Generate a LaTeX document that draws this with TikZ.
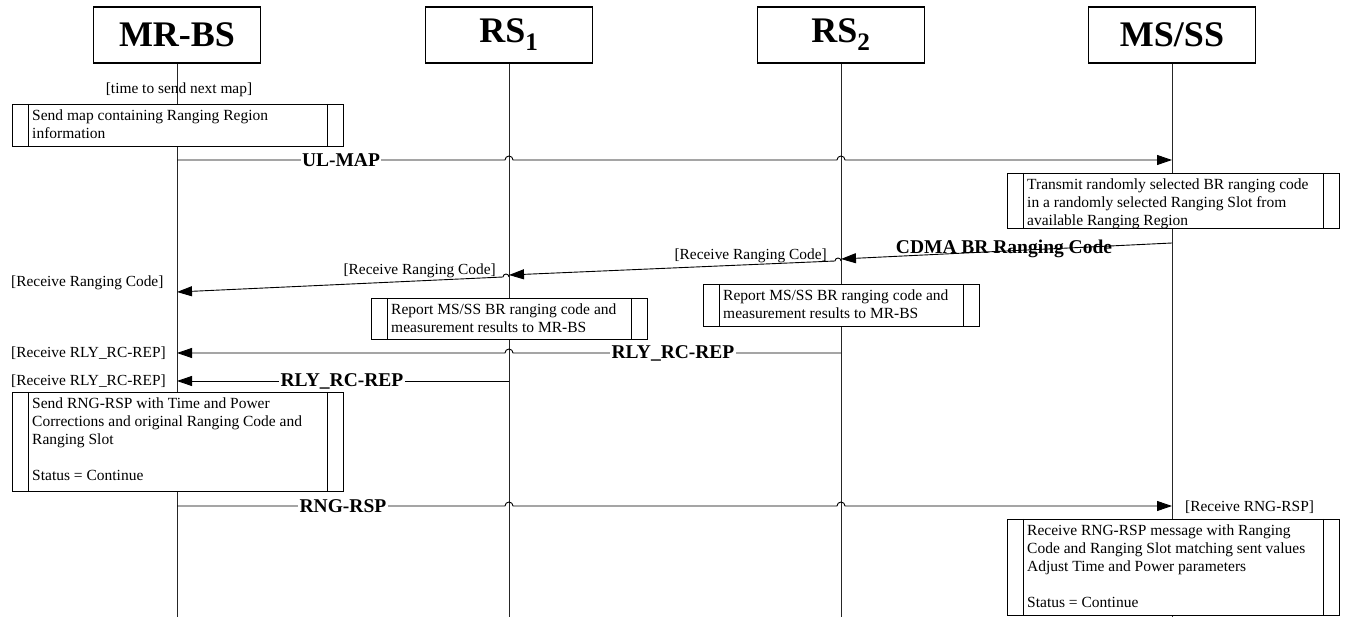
\documentclass[tikz,border=0pt]{standalone}
\usepackage{fontspec}
\setmainfont{Liberation Serif}
\usetikzlibrary{arrows.meta,calc}
\newcommand{\actbx}[6]{%
  \node[abox, minimum width=#4pt, minimum height=#5pt, anchor=north west] (#1) at (#2,#3) {};
  \draw[line width=0.9pt] ([xshift=16pt]#1.north west) -- ([xshift=16pt]#1.south west);
  \draw[line width=0.9pt] ([xshift=-16pt]#1.north east) -- ([xshift=-16pt]#1.south east);
  \node[atext, anchor=north west] (#1t) at ([xshift=20pt,yshift=-6pt]#1.north west) {#6};
}
\begin{document}
\begin{tikzpicture}[x=1pt,y=-1pt,
  head/.style={draw, line width=1.8pt, minimum width=167pt, minimum height=56pt, inner sep=0pt, font=\fontsize{36}{36}\selectfont\bfseries},
  life/.style={line width=0.8pt, black!85},
  abox/.style={draw, fill=white, line width=0.9pt, inner sep=0pt, outer sep=0pt},
  atext/.style={inner sep=0pt, align=left, font=\fontsize{15.5}{18}\selectfont},
  note/.style={inner sep=0pt, font=\fontsize{15.4}{18}\selectfont},
  msg/.style={line width=0.9pt, -{Triangle[length=15pt,width=10pt]}},
  mlabel/.style={fill=white, inner sep=1.5pt, font=\fontsize{19.5}{20}\selectfont\bfseries},
]
\useasboundingbox (0,0) rectangle (1345,617);

% headers
\node[head] (mrbs) at (177,35) {MR-BS};
\node[head] (rs1) at (509,35) {RS\textsubscript{1}};
\node[head] (rs2) at (841,35) {RS\textsubscript{2}};
\node[head] (msss) at (1172,35) {MS/SS};

% lifelines
\coordinate (mrbsE) at (177,617);
\coordinate (rs1E) at (509,617);
\coordinate (rs2E) at (841,617);
\coordinate (msssE) at (1172,617);
\draw[life] (mrbs.south) -- (mrbsE);
\draw[life] (rs1.south) -- (rs1E);
\draw[life] (rs2.south) -- (rs2E);
\draw[life] (msss.south) -- (msssE);

% time to send next map
\node[note] (tsnm) at (179,90) {[time to send next map]};

\actbx{b1}{12}{104}{331}{42}{Send map containing Ranging Region\\information}

% UL-MAP
\coordinate (ulS) at (177,160);
\coordinate (ulE) at (1172,160);
\draw[msg] (ulS) -- ($(ulS -| rs1)+(-4,0)$) arc[start angle=180,end angle=0,radius=4pt]
  -- ($(ulS -| rs2)+(-4,0)$) arc[start angle=180,end angle=0,radius=4pt] -- (ulE);
\node[mlabel] (ull) at (341,160) {UL-MAP};

\actbx{b2}{1007}{173}{332}{55}{Transmit randomly selected BR ranging code\\in a randomly selected Ranging Slot from\\available Ranging Region}

% CDMA BR Ranging Code
\coordinate (cdS) at (1172,243);
\coordinate (cdE) at (841,259);
\draw[msg] (cdS) -- (cdE);
\node[inner sep=0pt, font=\fontsize{19.5}{20}\selectfont\bfseries] (cdl) at (1004,249) {CDMA BR Ranging Code};

\coordinate (r2S) at (841,261);
\coordinate (r2E) at (509,275);
\draw[msg] (r2S) arc[start angle=0,end angle=180,radius=3pt] -- (r2E);
\node[note, anchor=east] (rc2) at (827,256) {[Receive Ranging Code]};

\coordinate (r1S) at (509,277);
\coordinate (r1E) at (177,292);
\draw[msg] (r1S) arc[start angle=0,end angle=180,radius=3pt] -- (r1E);
\node[note, anchor=east] (rc1) at (496,271) {[Receive Ranging Code]};
\node[note, anchor=west] (rc0) at (11,283) {[Receive Ranging Code]};

\actbx{b4}{703}{284}{276}{42}{Report MS/SS BR ranging code and\\measurement results to MR-BS}
\actbx{b3}{371}{298}{276}{41}{Report MS/SS BR ranging code and\\measurement results to MR-BS}

% RLY_RC-REP from RS2
\coordinate (rl2S) at (841,353);
\coordinate (rl2E) at (177,353);
\draw[msg] (rl2S) -- ($(rl2S -| rs1)+(4,0)$) arc[start angle=0,end angle=180,radius=4pt] -- (rl2E);
\node[mlabel] (rl2l) at (673,353) {RLY\_RC-REP};
\node[note, anchor=west] (rr2) at (11,353) {[Receive RLY\_RC-REP]};

% RLY_RC-REP from RS1
\coordinate (rl1S) at (509,381);
\coordinate (rl1E) at (177,381);
\draw[msg] (rl1S) -- (rl1E);
\node[mlabel] (rl1l) at (342,381) {RLY\_RC-REP};
\node[note, anchor=west] (rr1) at (11,381) {[Receive RLY\_RC-REP]};

\actbx{b5}{12}{392}{331}{99}{Send RNG-RSP with Time and Power\\Corrections and original Ranging Code and\\Ranging Slot\\[18pt]Status = Continue}

% RNG-RSP
\coordinate (rgS) at (177,506);
\coordinate (rgE) at (1172,506);
\draw[msg] (rgS) -- ($(rgS -| rs1)+(-4,0)$) arc[start angle=180,end angle=0,radius=4pt]
  -- ($(rgS -| rs2)+(-4,0)$) arc[start angle=180,end angle=0,radius=4pt] -- (rgE);
\node[mlabel] (rgl) at (343,506) {RNG-RSP};
\node[note, anchor=west] (rrg) at (1185,507) {[Receive RNG-RSP]};

\actbx{b6}{1007}{519}{332}{96}{Receive RNG-RSP message with Ranging\\Code and Ranging Slot matching sent values\\Adjust Time and Power parameters\\[18pt]Status = Continue}
\end{tikzpicture}
\end{document}
